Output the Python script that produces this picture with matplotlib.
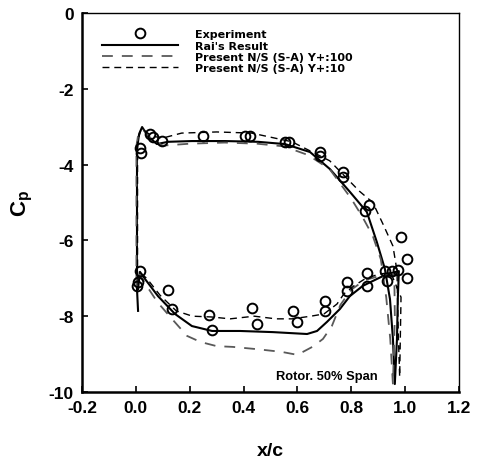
import matplotlib
matplotlib.use("Agg")
import matplotlib.pyplot as plt

plt.rcParams['font.family'] = ['Liberation Sans', 'DejaVu Sans']
plt.rcParams['font.weight'] = 'bold'
plt.rcParams['axes.unicode_minus'] = False
plt.rcParams['mathtext.fontset'] = 'custom'
plt.rcParams['mathtext.rm'] = 'Liberation Sans:bold'
plt.rcParams['mathtext.bf'] = 'Liberation Sans:bold'
plt.rcParams['mathtext.it'] = 'Liberation Sans:bold'

# --- datos experimentales ---
exp_x = [0.015, 0.019, 0.052, 0.064, 0.097, 0.249, 0.405, 0.424, 0.554, 0.569,
         0.684, 0.684, 0.769, 0.769, 0.851, 0.866, 0.985, 1.007, 1.007,
         0.925, 0.951, 0.973, 0.933,
         0.015, 0.008, 0.004, 0.119, 0.134, 0.272, 0.283, 0.431, 0.450,
         0.584, 0.598, 0.702, 0.702, 0.784, 0.784, 0.858, 0.858]
exp_y = [-3.56, -3.69, -3.19, -3.27, -3.38, -3.25, -3.25, -3.25, -3.40, -3.40,
         -3.67, -3.77, -4.20, -4.33, -5.22, -5.07, -5.91, -6.49, -6.99,
         -6.80, -6.80, -6.78, -7.07,
         -6.81, -7.10, -7.20, -7.31, -7.81, -7.97, -8.36, -7.78, -8.21,
         -7.86, -8.15, -7.60, -7.86, -7.10, -7.33, -6.86, -7.20]

# --- resultado de Rai (lazo completo) ---
rai_x = [0.008, 0.004, 0.004, 0.004, 0.012, 0.023, 0.045, 0.078, 0.119, 0.208,
         0.331, 0.454, 0.554, 0.647, 0.721, 0.795, 0.858, 0.895, 0.925, 0.944,
         0.955, 0.962, 0.970, 0.973, 0.977,
         0.933, 0.895, 0.843, 0.795, 0.758, 0.710, 0.673, 0.636, 0.509, 0.387,
         0.283, 0.208, 0.145, 0.082, 0.034, 0.015, 0.008]
rai_y = [-7.86, -7.28, -4.91, -3.59, -3.19, -3.01, -3.25, -3.46, -3.40, -3.38,
         -3.38, -3.40, -3.46, -3.67, -4.12, -4.72, -5.25, -6.04, -6.75, -7.55,
         -8.60, -9.79, -8.60, -7.55, -6.81,
         -6.89, -7.02, -7.20, -7.47, -7.81, -8.15, -8.39, -8.47, -8.42, -8.39,
         -8.39, -8.26, -7.94, -7.47, -7.02, -6.83, -7.28]

# --- presente N/S (S-A) Y+:100 ---
y100_x = [0.002, 0.002, 0.010, 0.030, 0.060, 0.100, 0.200, 0.330, 0.450, 0.550,
          0.640, 0.720, 0.800, 0.840, 0.880, 0.910, 0.930, 0.945, 0.955,
          0.962, 0.960,
          0.900, 0.850, 0.800, 0.760, 0.728, 0.695, 0.658, 0.600, 0.540, 0.450,
          0.360, 0.300, 0.240, 0.190, 0.140, 0.080, 0.040, 0.015, 0.002]
y100_y = [-7.20, -3.50, -3.15, -3.10, -3.35, -3.50, -3.45, -3.42, -3.45, -3.52,
          -3.75, -4.12, -4.90, -5.36, -5.88, -6.50, -7.50, -8.60, -9.80,
          -8.00, -6.90,
          -6.95, -7.05, -7.30, -7.70, -8.26, -8.60, -8.80, -9.02, -8.94, -8.87,
          -8.81, -8.79, -8.68, -8.52, -8.12, -7.63, -7.20, -6.90, -7.20]

# --- presente N/S (S-A) Y+:10 ---
y10_x = [0.006, 0.006, 0.020, 0.060, 0.100, 0.170, 0.300, 0.430, 0.580, 0.720,
         0.830, 0.880, 0.920, 0.955, 0.970, 0.975, 0.980,
         0.985, 0.947,
         0.902, 0.850, 0.810, 0.773, 0.747, 0.699, 0.650, 0.580, 0.520, 0.440,
         0.350, 0.280, 0.210, 0.150, 0.090, 0.040, 0.015, 0.006]
y10_y = [-7.00, -3.40, -3.05, -3.25, -3.30, -3.17, -3.14, -3.17, -3.40, -3.90,
         -4.70, -5.00, -5.60, -6.15, -6.80, -8.50, -9.60,
         -7.50, -6.85,
         -6.89, -7.02, -7.20, -7.41, -7.68, -7.94, -8.00, -8.07, -8.07, -8.00,
         -8.07, -8.02, -8.00, -7.86, -7.45, -7.00, -6.85, -7.00]

x_ticks = [-0.2, 0.0, 0.2, 0.4, 0.6, 0.8, 1.0, 1.2]
y_ticks = [0, -2, -4, -6, -8, -10]

fig = plt.figure(figsize=(4.8, 4.64), dpi=100)
ax = fig.add_axes([0.171, 0.153, 0.785, 0.817])

ax.plot(exp_x, exp_y, 'o', mfc='none', mec='black', ms=7, mew=1.4,
        label='Experiment', zorder=5)
ax.plot(rai_x, rai_y, '-', color='black', lw=1.5, label="Rai's Result")
ax.plot(y100_x, y100_y, color='0.35', lw=1.3, dashes=(6, 5),
        label='Present N/S (S-A) Y+:100')
ax.plot(y10_x, y10_y, color='black', lw=1.0, dashes=(5, 3.5),
        label='Present N/S (S-A) Y+:10')

ax.set_xlim(-0.2, 1.2)
ax.set_ylim(-10, 0)
ax.set_xticks(x_ticks)
ax.set_yticks(y_ticks)
ax.set_xticklabels([f'{v:.1f}' for v in x_ticks])
ax.set_yticklabels([str(v) for v in y_ticks])
ax.tick_params(direction='in', length=4, width=1.2, labelsize=12.5, pad=6)

for s in ['left', 'bottom']:
    ax.spines[s].set_linewidth(1.8)
for s in ['top', 'right']:
    ax.spines[s].set_linewidth(1.0)

ax.set_xlabel('x/c', fontsize=14, fontweight='bold', labelpad=19)
ax.set_ylabel(r'$\mathbf{C_p}$', fontsize=16, labelpad=10)

ax.text(0.71, -9.58, 'Rotor. 50% Span', fontsize=9.3, fontweight='bold',
        ha='center', va='center')

ax.legend(loc='upper left', bbox_to_anchor=(0.053, 0.957), frameon=False,
          prop={'family': 'DejaVu Sans', 'weight': 'bold', 'size': 8},
          handlelength=6.85, handletextpad=1.5, labelspacing=0.12,
          borderpad=0, borderaxespad=0, numpoints=1)

fig.savefig('out.png', dpi=100)
